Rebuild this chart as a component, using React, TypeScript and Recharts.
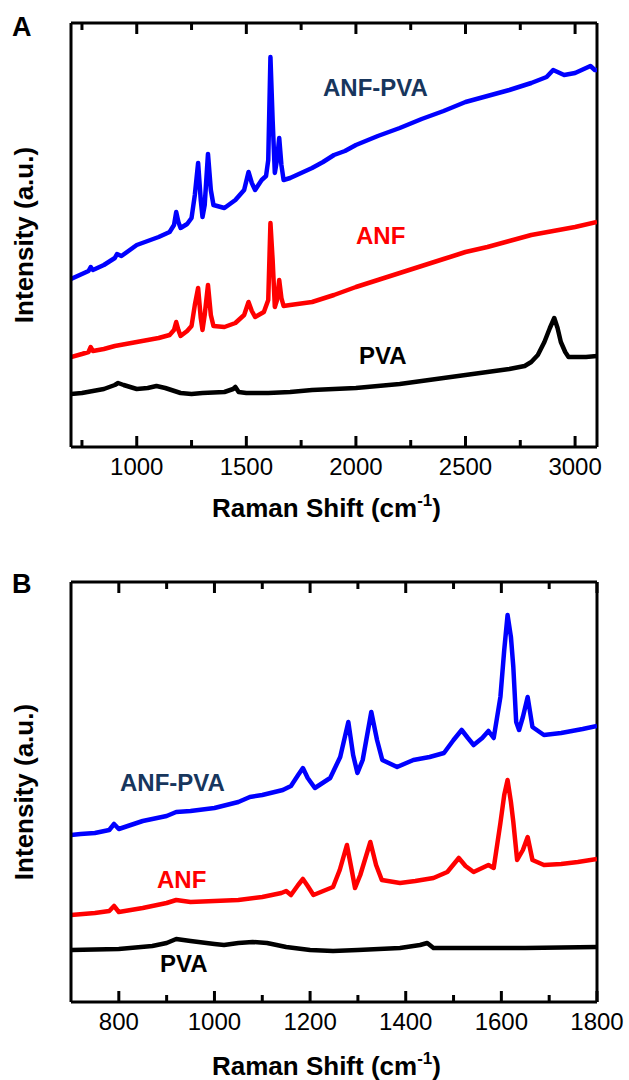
import React from 'react';
import { LineChart, Line, XAxis, YAxis, ReferenceLine } from 'recharts';

// ---------- Panel A data: [Raman shift (cm-1), intensity (a.u.)] ----------
const aANFPVA: [number, number][] = [
  [700, 168], [750, 173], [780, 176], [790, 180], [800, 177], [850, 182], [900, 189], [910, 193], [930, 191],
  [1000, 202], [1050, 206], [1100, 210], [1150, 215], [1170, 222], [1180, 235], [1190, 225], [1200, 219],
  [1230, 223], [1250, 229], [1265, 252], [1280, 284], [1292, 247], [1300, 230], [1310, 242], [1325, 293],
  [1338, 257], [1350, 242], [1400, 239], [1450, 247], [1490, 257], [1510, 275], [1525, 264], [1540, 257],
  [1570, 267], [1590, 271], [1600, 287], [1610, 390], [1620, 327], [1630, 274], [1640, 287], [1650, 309],
  [1660, 282], [1670, 267], [1700, 269], [1750, 274], [1800, 279], [1850, 285], [1900, 292], [1950, 296],
  [2000, 302], [2100, 311], [2200, 319], [2300, 328], [2400, 336], [2500, 345], [2600, 351], [2700, 357],
  [2800, 364], [2870, 370], [2900, 377], [2920, 375], [2950, 372], [3000, 374], [3050, 379], [3070, 381],
  [3090, 377], [3100, 377],
];
const aANF: [number, number][] = [
  [700, 90], [750, 93], [780, 95], [790, 100], [800, 96], [850, 98], [900, 101], [1000, 105], [1050, 107],
  [1100, 109], [1150, 112], [1170, 117], [1180, 125], [1190, 117], [1200, 111], [1230, 116], [1250, 121],
  [1265, 142], [1280, 159], [1292, 129], [1300, 117], [1310, 132], [1325, 162], [1338, 132], [1350, 121],
  [1400, 120], [1450, 124], [1490, 132], [1510, 145], [1525, 136], [1540, 130], [1580, 135], [1600, 147],
  [1610, 224], [1620, 187], [1630, 140], [1640, 147], [1650, 167], [1660, 149], [1670, 141], [1700, 142],
  [1800, 145], [1900, 152], [2000, 160], [2100, 167], [2200, 174], [2300, 181], [2400, 188], [2500, 195],
  [2600, 200], [2700, 206], [2800, 212], [2900, 216], [3000, 220], [3100, 225],
];
const aPVA: [number, number][] = [
  [700, 53], [750, 54], [800, 56], [850, 58], [900, 62], [915, 64], [940, 62], [1000, 58], [1050, 59],
  [1090, 61], [1130, 59], [1200, 54], [1250, 53], [1300, 54], [1400, 55], [1440, 58], [1450, 60], [1465, 55],
  [1500, 54], [1600, 54], [1700, 55], [1800, 57], [1900, 58], [2000, 59], [2100, 61], [2200, 63], [2300, 66],
  [2400, 69], [2500, 72], [2600, 75], [2700, 78], [2770, 81], [2800, 85], [2830, 92], [2860, 105],
  [2885, 119], [2905, 129], [2920, 119], [2935, 105], [2955, 95], [2970, 90], [3000, 90], [3050, 90], [3100, 91],
];

// ---------- Panel B data ----------
const bANFPVA: [number, number][] = [
  [700, 167], [720, 168], [750, 169], [780, 172], [790, 178], [800, 173], [850, 181], [900, 186], [920, 190],
  [950, 191], [1000, 194], [1050, 200], [1074, 205], [1100, 207], [1143, 212], [1160, 216], [1175, 227],
  [1185, 234], [1195, 224], [1210, 214], [1242, 224], [1263, 245], [1280, 280], [1290, 247], [1299, 229],
  [1310, 242], [1328, 290], [1340, 262], [1351, 242], [1382, 235], [1416, 242], [1450, 245], [1480, 249],
  [1500, 262], [1517, 272], [1530, 264], [1542, 257], [1560, 264], [1573, 271], [1584, 264], [1598, 305],
  [1606, 352], [1613, 387], [1620, 365], [1625, 335], [1631, 280], [1637, 272], [1645, 285], [1655, 305],
  [1665, 275], [1689, 267], [1725, 269], [1770, 273], [1800, 276],
];
const bANF: [number, number][] = [
  [700, 87], [750, 89], [780, 91], [790, 96], [800, 90], [850, 94], [900, 99], [920, 102], [950, 100],
  [1000, 101], [1050, 102], [1100, 105], [1140, 109], [1150, 111], [1160, 107], [1175, 117], [1185, 123],
  [1195, 116], [1207, 107], [1248, 115], [1262, 132], [1277, 157], [1287, 132], [1294, 114], [1305, 127],
  [1326, 160], [1338, 137], [1350, 122], [1388, 119], [1420, 121], [1458, 124], [1487, 130], [1511, 144],
  [1525, 136], [1542, 130], [1573, 137], [1584, 134], [1598, 179], [1606, 207], [1613, 222], [1620, 200],
  [1625, 180], [1633, 142], [1645, 152], [1655, 165], [1665, 142], [1689, 137], [1725, 138], [1760, 140],
  [1800, 143],
];
const bPVA: [number, number][] = [
  [700, 52], [800, 53], [870, 56], [900, 59], [920, 63], [950, 61], [1000, 58], [1020, 57], [1050, 59],
  [1080, 60], [1110, 59], [1150, 55], [1200, 52], [1248, 51], [1300, 52], [1388, 54], [1430, 57], [1445, 59],
  [1458, 54], [1487, 54], [1550, 54], [1650, 54], [1800, 55],
];

// ---------- Axis ticks ----------
const aTicks = [750, 1000, 1250, 1500, 1750, 2000, 2250, 2500, 2750, 3000];
const aLabels = [1000, 1500, 2000, 2500, 3000];
const bTicks = [800, 900, 1000, 1100, 1200, 1300, 1400, 1500, 1600, 1700, 1800];
const bLabels = [800, 1000, 1200, 1400, 1600, 1800];

const FONT = "'Liberation Sans', Arial, sans-serif";
const toPts = (arr: [number, number][]) => arr.map(([x, y]) => ({ x, y }));
const FRAME = { stroke: '#000', strokeWidth: 3 };

function makeTick(labels: number[]) {
  return (props: any) => {
    const { x, y, payload } = props;
    const v = payload.value;
    const major = labels.includes(v);
    const len = major ? 11 : 7;
    return (
      <g>
        <path d={`M${x},${y}L${x},${y - len}`} stroke="#000" strokeWidth={3} />
        {major ? (
          <text x={x} y={y + 28} textAnchor="middle" fontSize={24} fontFamily={FONT} fill="#000">
            {v}
          </text>
        ) : null}
      </g>
    );
  };
}

type PanelProps = {
  domain: [number, number];
  yMax: number;
  ticks: number[];
  labels: number[];
  topH: number;
  bottomH: number;
  series: { data: [number, number][]; color: string }[];
};

function Panel({ domain, yMax, ticks, labels, topH, bottomH, series }: PanelProps) {
  // 1 intensity unit == 1 px vertically in both panels, so tick lengths are in px
  const marks: React.ReactNode[] = [];
  ticks.forEach((v) => {
    const len = labels.includes(v) ? 11 : 7;
    marks.push(
      <ReferenceLine key={`t${v}`} segment={[{ x: v, y: yMax - len }, { x: v, y: yMax }]} stroke="#000" strokeWidth={3} />
    );
  });
  return (
    <LineChart width={629} height={540} margin={{ top: topH, right: 32, bottom: 0, left: 70 }}>
      <XAxis
        dataKey="x"
        type="number"
        domain={domain}
        allowDataOverflow
        ticks={ticks}
        interval={0}
        height={bottomH}
        axisLine={FRAME}
        tickLine={false}
        tickSize={0}
        tickMargin={0}
        tick={makeTick(labels)}
      />
      <YAxis width={1} type="number" domain={[0, yMax]} allowDataOverflow tick={false} tickLine={false} axisLine={FRAME} />
      <ReferenceLine y={yMax} stroke="#000" strokeWidth={3} />
      <ReferenceLine x={domain[1]} stroke="#000" strokeWidth={3} />
      {marks}
      {series.map((s, i) => (
        <Line
          key={i}
          data={toPts(s.data)}
          dataKey="y"
          type="linear"
          stroke={s.color}
          strokeWidth={4.5}
          strokeLinejoin="round"
          dot={false}
          activeDot={false}
          isAnimationActive={false}
        />
      ))}
    </LineChart>
  );
}

// HTML text helper: baseline-positioned, line-height 1
const T = ({ x, y, fs, color = '#000', children }: any) => (
  <div
    style={{
      position: 'absolute',
      left: x,
      top: y - fs * 0.8465,
      fontSize: fs,
      lineHeight: 1,
      fontFamily: FONT,
      fontWeight: 700,
      color,
      whiteSpace: 'nowrap',
    }}
  >
    {children}
  </div>
);

const YTitle = ({ cy }: { cy: number }) => (
  <div
    style={{
      position: 'absolute',
      left: 24 - 150,
      top: cy - 13,
      width: 300,
      height: 26,
      lineHeight: '26px',
      fontSize: 26,
      fontFamily: FONT,
      fontWeight: 700,
      textAlign: 'center',
      whiteSpace: 'nowrap',
      transform: 'rotate(-90deg)',
    }}
  >
    Intensity (a.u.)
  </div>
);

const XTitle = ({ y }: { y: number }) => (
  <T x={212} y={y} fs={26}>
    Raman Shift (cm<span style={{ fontSize: 17, position: 'relative', top: -11 }}>-1</span>)
  </T>
);

export default function App() {
  return (
    <div style={{ position: 'absolute', left: 0, top: 0, width: 629, height: 1080, background: '#fff' }}>
      <div style={{ position: 'absolute', left: 0, top: 0 }}>
        <Panel
          domain={[700, 3100]}
          yMax={424}
          ticks={aTicks}
          labels={aLabels}
          topH={23}
          bottomH={93}
          series={[
            { data: aPVA, color: '#000000' },
            { data: aANF, color: '#FF0000' },
            { data: aANFPVA, color: '#0000FF' },
          ]}
        />
      </div>
      <div style={{ position: 'absolute', left: 0, top: 540 }}>
        <Panel
          domain={[700, 1800]}
          yMax={420}
          ticks={bTicks}
          labels={bLabels}
          topH={42}
          bottomH={78}
          series={[
            { data: bPVA, color: '#000000' },
            { data: bANF, color: '#FF0000' },
            { data: bANFPVA, color: '#0000FF' },
          ]}
        />
      </div>

      <T x={12} y={37} fs={27}>A</T>
      <T x={12} y={594} fs={27}>B</T>
      <YTitle cy={235} />
      <YTitle cy={792} />
      <XTitle y={517} />
      <XTitle y={1075} />

      <T x={323} y={96} fs={24} color="#17365D">ANF-PVA</T>
      <T x={356} y={244} fs={24} color="#FF0000">ANF</T>
      <T x={359} y={364} fs={24}>PVA</T>

      <T x={120} y={791} fs={24} color="#17365D">ANF-PVA</T>
      <T x={157} y={888} fs={24} color="#FF0000">ANF</T>
      <T x={160} y={972} fs={24}>PVA</T>
    </div>
  );
}
